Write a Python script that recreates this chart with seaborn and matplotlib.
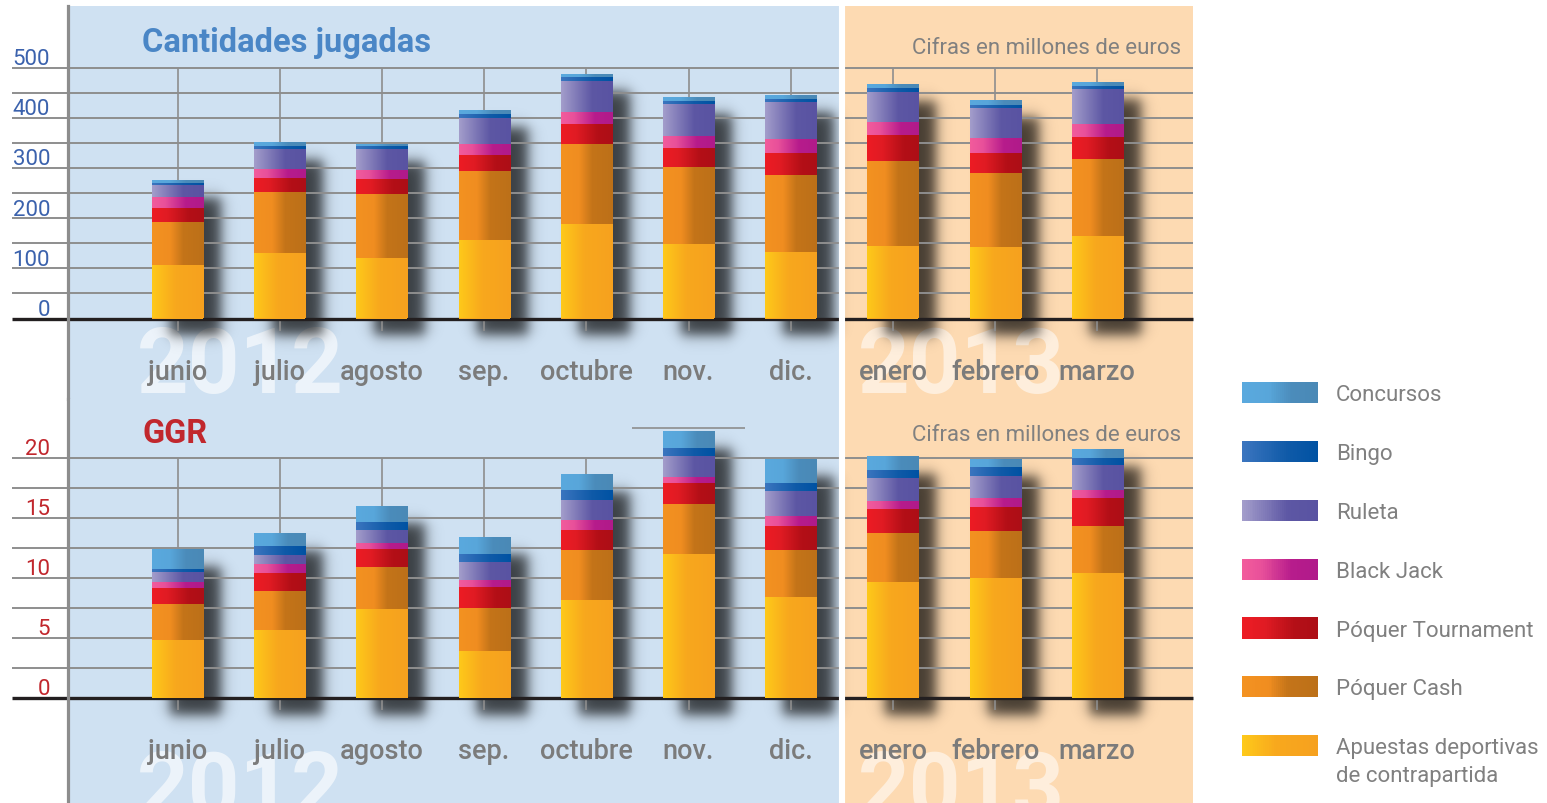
import numpy as np
import pandas as pd
import matplotlib
matplotlib.use("Agg")
import matplotlib.pyplot as plt
import seaborn as sns
from matplotlib.colors import to_rgb
from matplotlib.legend_handler import HandlerBase
from matplotlib.patches import Rectangle

# ---------------- data ----------------
meses = ["junio", "julio", "agosto", "sep.", "octubre", "nov.", "dic.",
         "enero", "febrero", "marzo"]
categorias = ["Apuestas deportivas", "Póquer Cash", "Póquer Tournament",
              "Black Jack", "Ruleta", "Bingo", "Concursos"]  # bottom -> top

# Cantidades jugadas (millones de euros)
jug_apuestas = [104, 128, 118, 154, 186, 146, 130, 142, 140, 162]
jug_cash     = [87, 122, 128, 138, 160, 154, 154, 170, 148, 154]
jug_tourn    = [27, 28, 30, 32, 40, 38, 44, 52, 40, 44]
jug_bj       = [23, 18, 18, 22, 24, 24, 28, 26, 30, 26]
jug_ruleta   = [23, 40, 41, 52, 62, 64, 74, 60, 60, 70]
jug_bingo    = [4, 5, 7, 8, 8, 6, 6, 8, 6, 6]
jug_conc     = [6, 8, 4, 8, 6, 8, 8, 8, 10, 8]

# GGR (millones de euros)
ggr_apuestas = [4.8, 5.6, 7.4, 3.9, 8.1, 12.0, 8.4, 9.6, 10.0, 10.4]
ggr_cash     = [3.0, 3.3, 3.5, 3.6, 4.2, 4.1, 3.9, 4.1, 3.9, 3.9]
ggr_tourn    = [1.3, 1.5, 1.5, 1.7, 1.7, 1.8, 2.0, 2.0, 2.0, 2.3]
ggr_bj       = [0.5, 0.7, 0.5, 0.6, 0.8, 0.5, 0.8, 0.7, 0.7, 0.7]
ggr_ruleta   = [0.9, 0.8, 1.1, 1.5, 1.7, 1.7, 2.1, 1.9, 1.9, 2.1]
ggr_bingo    = [0.25, 0.7, 0.6, 0.7, 0.8, 0.7, 0.7, 0.7, 0.7, 0.6]
ggr_conc     = [1.6, 1.1, 1.4, 1.4, 1.3, 1.4, 2.0, 1.1, 0.7, 0.7]

jug_ticks = [0, 100, 200, 300, 400, 500]
ggr_ticks = [0, 5, 10, 15, 20]

# ---------------- styles ----------------
gradients = [
    [(0, "#fec91a"), (0.45, "#f8a81d"), (1, "#f6a11f")],                      # Apuestas
    [(0, "#f39221"), (0.35, "#f08d20"), (0.6, "#c47419"), (1, "#bc7018")],    # Cash
    [(0, "#ed1c24"), (0.3, "#e01b23"), (0.7, "#b40f17"), (1, "#ad0e16")],     # Tournament
    [(0, "#f25c9c"), (0.25, "#e8509a"), (0.65, "#b71c8c"), (1, "#b01a8a")],   # Black Jack
    [(0, "#a39dcb"), (0.6, "#5d57a4"), (1, "#5953a2")],                       # Ruleta
    [(0, "#3b75bf"), (0.6, "#0f5aa8"), (1, "#0052a3")],                       # Bingo
    [(0, "#5aa9de"), (0.35, "#58a6da"), (0.65, "#4b8cbb"), (1, "#4a89b6")],   # Concursos
]
BLUE_BG = "#cfe1f2"
PEACH_BG = "#fddab2"
GRID = "#8e8e8e"
GRAYTXT = "#7b7b7b"

plt.rcParams["font.family"] = ["Roboto", "DejaVu Sans"]

W_PX, H_PX = 1547, 804
fig = plt.figure(figsize=(W_PX / 100, H_PX / 100), dpi=100)
fig.patch.set_facecolor("white")

X0_PX, STEP_PX = 177.5, 102.2      # bar-centre layout in pixels
AX_L, AX_R = 68, 1193


def grad_array(stops, n=96):
    pos = [p for p, _ in stops]
    cols = np.array([to_rgb(c) for _, c in stops])
    t = np.linspace(0, 1, n)
    arr = np.stack([np.interp(t, pos, cols[:, i]) for i in range(3)], axis=-1)
    return arr[None, :, :]


def px2x(px):
    return (px - X0_PX) / STEP_PX


def make_axes(top_px, bot_px, zero_px, ppu):
    ax = fig.add_axes([AX_L / W_PX, 1 - bot_px / H_PX,
                       (AX_R - AX_L) / W_PX, (bot_px - top_px) / H_PX])
    ax.set_facecolor("none")
    ylim = ((zero_px - bot_px) / ppu, (zero_px - top_px) / ppu)
    xlim = (px2x(AX_L), px2x(AX_R))
    return ax, xlim, ylim


def add_shadow(ax, patch, ppx, ppy, dx=18, dy=17, blur=6.5, alpha=0.72):
    x0, y0 = patch.get_x(), patch.get_y()
    w, h = patch.get_width(), patch.get_height()
    wpx, hpx = w * ppx, h * ppy
    m = 4 * blur
    Wn, Hn = int(wpx + 2 * m), int(hpx + 2 * m)
    u = np.arange(Wn) + 0.5
    v = np.arange(Hn) + 0.5
    sig = lambda t: 1 / (1 + np.exp(-t))
    fx = sig((u - m) / blur * 1.7) * sig((wpx + m - u) / blur * 1.7)
    fy = sig((v - m) / blur * 1.7) * sig((hpx + m - v) / blur * 1.7)
    img = np.zeros((Hn, Wn, 4))
    img[..., 3] = alpha * np.outer(fy, fx)
    ex0 = x0 + (dx - m) / ppx
    ey0 = y0 - (dy + m) / ppy
    ax.imshow(img, extent=[ex0, ex0 + Wn / ppx, ey0, ey0 + Hn / ppy],
              origin="lower", aspect="auto", interpolation="bilinear",
              zorder=0.5, clip_on=False)


def draw_panel(ax, xlim, ylim, series, ppy, grid_step, ticks, tick_color,
               vline_bottom, label_off):
    ppx = STEP_PX
    cum = np.cumsum(np.array(series, dtype=float), axis=0)
    nlay = len(series)
    for d, k in enumerate(reversed(range(nlay))):
        df = pd.DataFrame({"mes": meses, "valor": cum[k]})
        n0 = len(ax.patches)
        mid = grad_array(gradients[k], 3)[0, 1]
        sns.barplot(data=df, x="mes", y="valor", color=mid, width=0.5,
                    saturation=1, errorbar=None, linewidth=0, ax=ax)
        new = ax.patches[n0:]
        for p in new:
            p.set_zorder(3 + 2 * d)
            x0, y0 = p.get_x(), p.get_y()
            w, h = p.get_width(), p.get_height()
            ax.imshow(grad_array(gradients[k]), extent=[x0, x0 + w, y0, y0 + h],
                      aspect="auto", interpolation="bilinear", zorder=4 + 2 * d)
            if d == 0:
                add_shadow(ax, p, ppx, ppy)
    ax.set_xlim(xlim)
    ax.set_ylim(ylim)
    ax.set_aspect("auto")
    ax.set_xlabel("")
    ax.set_ylabel("")
    ax.set_xticks([])
    ax.set_yticks([])
    for s in ["top", "right", "bottom"]:
        ax.spines[s].set_visible(False)
    ax.spines["left"].set_color("#8d8d8d")
    ax.spines["left"].set_linewidth(2.3)
    ax.spines["left"].set_zorder(30)

    # backgrounds
    ax.axvspan(xlim[0], 6.5, color=BLUE_BG, zorder=0, lw=0)
    ax.axvspan(6.5, xlim[1], color=PEACH_BG, zorder=0, lw=0)

    # grid
    xl = px2x(12)
    top = ticks[-1]
    for v in np.arange(grid_step, top + grid_step / 2, grid_step):
        ax.hlines(v, xl, xlim[1], color=GRID, lw=1.4, zorder=1, clip_on=False)
    ax.vlines(range(len(meses)), vline_bottom, top, color=GRID, lw=1.2, zorder=1)
    ax.hlines(0, xl, xlim[1], color="#231f20", lw=2.4, zorder=2, clip_on=False)
    ax.axvline(6.5, color="white", lw=4.4, zorder=2.5)

    for t in ticks:
        ax.text(px2x(50), t + label_off, str(t), ha="right", va="center",
                color=tick_color, fontsize=16, clip_on=False)
    return ppx


# ---------------- top panel ----------------
ax1, xl1, yl1 = make_axes(7, 400, 319.5, 0.502)
draw_panel(ax1, xl1, yl1,
           [jug_apuestas, jug_cash, jug_tourn, jug_bj, jug_ruleta, jug_bingo, jug_conc],
           0.502, 50, jug_ticks, "#3b62ad", (319.5 - 332) / 0.502, 9 / 0.502)

# ---------------- bottom panel ----------------
ax2, xl2, yl2 = make_axes(400, 804, 699, 12.0)
draw_panel(ax2, xl2, yl2,
           [ggr_apuestas, ggr_cash, ggr_tourn, ggr_bj, ggr_ruleta, ggr_bingo, ggr_conc],
           12.0, 2.5, ggr_ticks, "#c1272d", (699 - 711) / 12.0, 9.5 / 12.0)
ax2.hlines(22.5, 5 - 0.55, 5 + 0.55, color=GRID, lw=1.2, zorder=1)

# ---------------- texts ----------------
def y_of(px, zero, ppu):
    return (zero - px) / ppu

for ax, zero, ppu, ymon, ywm in [(ax1, 319.5, 0.502, 373, 393), (ax2, 699, 12.0, 752, 817)]:
    ax.text(px2x(137), y_of(ywm, zero, ppu), "2012", fontsize=65, fontweight="bold",
            color="white", alpha=0.62, ha="left", va="baseline", zorder=0.3)
    ax.text(px2x(858), y_of(ywm, zero, ppu), "2013", fontsize=65, fontweight="bold",
            color="white", alpha=0.55, ha="left", va="baseline", zorder=0.3)
    for i, m in enumerate(meses):
        ax.text(i, y_of(ymon, zero, ppu), m, ha="center", va="center",
                fontsize=19.5, fontweight="medium", color=GRAYTXT, zorder=40)

ax1.text(px2x(142), y_of(43, 319.5, 0.502), "Cantidades jugadas", fontsize=23.5,
         fontweight="bold", color="#4a86c6", ha="left", va="center", zorder=40)
ax2.text(px2x(142), y_of(434, 699, 12.0), "GGR", fontsize=23.5,
         fontweight="bold", color="#c1272d", ha="left", va="center", zorder=40)
ax1.text(px2x(1181), y_of(49, 319.5, 0.502), "Cifras en millones de euros",
         fontsize=16, color="#808080", ha="right", va="center", zorder=40)
ax2.text(px2x(1181), y_of(436, 699, 12.0), "Cifras en millones de euros",
         fontsize=16, color="#808080", ha="right", va="center", zorder=40)

# ---------------- legend ----------------
class Grad:
    def __init__(self, stops):
        self.stops = stops


class GradHandler(HandlerBase):
    def create_artists(self, legend, orig_handle, xdescent, ydescent, width,
                       height, fontsize, trans):
        arr = grad_array(orig_handle.stops, 40)[0]
        n = len(arr)
        arts = []
        for j in range(n):
            r = Rectangle((-xdescent + j * width / n, -ydescent), width / n * 1.05,
                          height, facecolor=arr[j], edgecolor="none", transform=trans)
            arts.append(r)
        return arts


handles = [Grad(gradients[k]) for k in reversed(range(7))]
labels = list(reversed(categorias))
fig.legend(handles, labels, handler_map={Grad: GradHandler()},
           loc="upper left", bbox_to_anchor=(1242 / W_PX, 1 - 383 / H_PX),
           frameon=False, fontsize=16, labelcolor="#808080",
           handlelength=76 / 22.2, handleheight=24 / 22.2,
           handletextpad=18 / 22.2, labelspacing=1.61,
           borderpad=0, borderaxespad=0)
fig.text(1336 / W_PX, 1 - 777 / H_PX, "de contrapartida", fontsize=16,
         color="#808080", ha="left", va="center")

fig.savefig("out.png", dpi=100)
